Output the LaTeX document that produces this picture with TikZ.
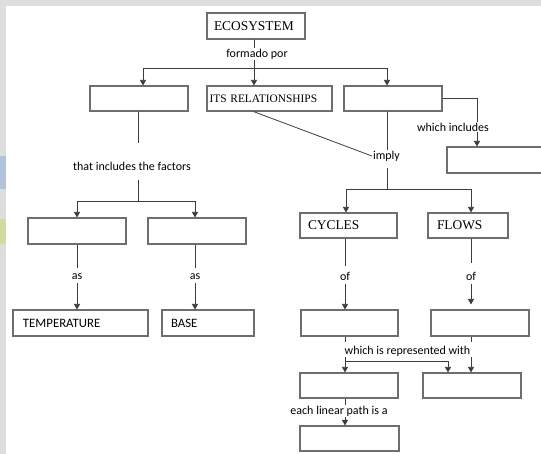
\documentclass[tikz,border=0pt]{standalone}
\usepackage{fontspec}
\setmainfont{Liberation Serif}
\newfontfamily\labelfont{Carlito}
\usetikzlibrary{arrows.meta}
\definecolor{Frame}{HTML}{DDDEE0}
\definecolor{TabBlue}{HTML}{B3C3DC}
\definecolor{TabGreen}{HTML}{D2DA9E}
\definecolor{BoxLine}{HTML}{6E6E6E}
\definecolor{LinkLine}{HTML}{3C3C3C}
\tikzset{
  concept/.style={draw=BoxLine, line width=1.1pt, fill=white, align=left,
                  inner xsep=7pt, inner ysep=0pt, minimum height=25pt},
  serifcap/.style={font=\fontsize{13.4}{15}\selectfont},
  sanscap/.style={font=\labelfont\fontsize{12.8}{15}\selectfont},
  linklab/.style={font=\labelfont\fontsize{12}{14}\selectfont, inner sep=1pt},
  link/.style={draw=LinkLine, line width=0.8pt},
  linkarrow/.style={link, -{Triangle[length=5.5pt, width=6pt]}},
}

\begin{document}
\begin{tikzpicture}[x=1pt, y=-1pt]
    % window frame and the two tabs on the left edge
    \fill[Frame] (0,0) rectangle (541,454);
    \fill[white] (6,6) rectangle (541,454);
    \fill[TabBlue] (0,156) rectangle (6,189);
    \fill[TabGreen] (0,219) rectangle (6,244);
    \useasboundingbox (0,0) rectangle (541,454);

    \node[concept, serifcap, text width=84pt, minimum height=26pt]
      (eco) at (256,26) {ECOSYSTEM};
    \node[linklab] (forma) at (257,54) {formado por};

    \node[concept, minimum width=98pt] (kinds) at (139,98.5) {};
    \node[concept, font=\fontsize{11.4}{13}\selectfont, inner xsep=2.5pt,
          text width=120pt] (rel) at (269.5,98.5) {ITS RELATIONSHIPS};
    \node[concept, minimum width=98pt] (comp) at (393,98.5) {};

    \node[linklab] (incl) at (453,127) {which includes};
    % runs off the right edge of the window, as in the screenshot
    \node[concept, minimum width=98pt, minimum height=26pt]
      (inclbox) at (496,160) {};

    \node[linklab] (factors) at (132,166) {that includes the factors};
    \node[linklab] (imply) at (386.5,156) {imply};

    \node[concept, minimum width=98pt, minimum height=26pt] (factA) at (77,231) {};
    \node[concept, minimum width=98pt, minimum height=26pt] (factB) at (197,231) {};
    \node[linklab] (asA) at (77,277) {as};
    \node[linklab] (asB) at (195,277) {as};
    \node[concept, sanscap, inner xsep=10pt, text width=115pt, minimum height=26pt]
      (temp) at (80.5,323) {TEMPERATURE};
    \node[concept, sanscap, inner xsep=9pt, text width=74pt, minimum height=26pt]
      (base) at (208,323) {BASE};

    \node[concept, serifcap, inner xsep=8pt, text width=81pt]
      (cyc) at (348.5,225.5) {CYCLES};
    \node[concept, serifcap, inner xsep=9pt, text width=62pt]
      (flow) at (468,225.5) {FLOWS};
    \node[linklab] (ofC) at (345,276) {of};
    \node[linklab] (ofF) at (471,276) {of};
    \node[concept, minimum width=97pt, minimum height=26pt] (cycbox) at (349.5,323) {};
    \node[concept, minimum width=98pt, minimum height=26pt] (flowbox) at (480,323) {};

    \node[linklab] (repr) at (407.5,351) {which is represented with};
    \node[concept, minimum width=98pt] (reprA) at (349,385.5) {};
    \node[concept, minimum width=98pt] (reprB) at (472,385.5) {};
    \node[linklab] (linear) at (339,411) {each linear path is a};
    \node[concept, minimum width=99pt] (pathbox) at (349.5,438.5) {};

    \coordinate (split) at (254,68);
    \coordinate (fsplit) at (138,201);
    \coordinate (isplit) at (387,189);
    \coordinate (colC) at (345,0);
    \coordinate (colF) at (471,0);
    \coordinate (rsplit) at (345,361);

    % ecosystem
    \draw[link] (eco.south -| split) -- (forma.north -| split);
    \draw[link] (forma.south -| split) -- (split);
    \draw[linkarrow] (split) -- (split |- rel.north);
    \draw[linkarrow] (split) -| ([xshift=4pt]kinds.north);
    \draw[linkarrow] (split) -| ([xshift=-6pt]comp.north);

    \draw[link] (comp.east) -| ([xshift=24pt]incl.north);
    \draw[linkarrow] ([xshift=24pt]incl.south) -- ([xshift=24pt]incl.south |- inclbox.north);

    % factors
    \draw[link, shorten >=18pt] (kinds.south -| fsplit) -- (factors.north -| fsplit);
    \draw[link, shorten <=9pt] (factors.south -| fsplit) -- (fsplit);
    \draw[linkarrow] (fsplit) -| (factA.north);
    \draw[linkarrow] (fsplit) -| ([xshift=-2pt]factB.north);
    \draw[link, shorten >=5pt] (factA.south) -- (asA.north);
    \draw[linkarrow, shorten <=2pt] (asA.south) -- (asA.south |- temp.north);
    \draw[link, shorten >=5pt] (factB.south -| asB) -- (asB.north);
    \draw[linkarrow, shorten <=2pt] (asB.south) -- (asB.south |- base.north);

    % relationships
    \draw[link] ([xshift=-16pt]rel.south) -- (imply.west);
    \draw[link] ([xshift=-6pt]comp.south) -- ([xshift=-6pt]comp.south |- imply.north);
    \draw[link, shorten <=6pt] (imply.south -| isplit) -- (isplit);
    \draw[linkarrow] (isplit) -| ([xshift=-2.5pt]cyc.north);
    \draw[linkarrow] (isplit) -| ([xshift=3pt]flow.north);

    \draw[link, shorten >=5pt] (cyc.south -| ofC) -- (ofC.north);
    \draw[linkarrow, shorten <=3pt] (ofC.south) -- (ofC.south |- cycbox.north);
    \draw[link, shorten >=8pt] (flow.south -| ofF) -- (ofF.north);
    \draw[linkarrow, shorten <=3pt, shorten >=5pt] (ofF.south) -- (ofF.south |- flowbox.north);

    % representation
    \draw[link, shorten >=3pt] (cycbox.south -| colC) -- (repr.north -| colC);
    \draw[link] (repr.south -| colC) -- (rsplit);
    \draw[linkarrow] (rsplit) -- (rsplit |- reprA.north);
    \draw[linkarrow] (rsplit) -| ([xshift=-24pt]reprB.north);
    \draw[link, shorten >=3pt] (flowbox.south -| colF) -- (repr.north -| colF);
    \draw[linkarrow] (repr.south -| colF) -- (colF |- reprB.north);

    \draw[link] (reprA.south -| colC) -- (linear.north -| colC);
    \draw[linkarrow] (linear.south -| colC) -- (colC |- pathbox.north);
\end{tikzpicture}
\end{document}
